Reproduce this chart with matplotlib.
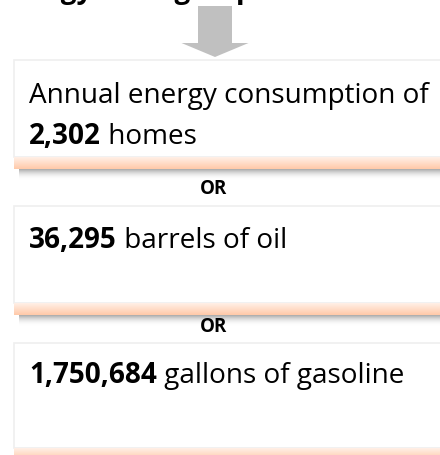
"""Energy savings equivalents infographic (boxes joined by OR)."""
import matplotlib
matplotlib.use("Agg")
import matplotlib.pyplot as plt
from matplotlib.colors import to_rgba
from matplotlib.patches import FancyArrow, Rectangle
import numpy as np

TITLE = "Energy Savings Equivalent"
INTRO = "Annual energy consumption of"
AMOUNTS = ["2,302", "36,295", "1,750,684"]
UNITS = ["homes", "barrels of oil", "gallons of gasoline"]
SEPARATOR = "OR"

FONT = "Open Sans"
TEXT_PT = 20.1
OR_PT = 13.5

# layout in pixels (y grows downward)
W, H = 440, 455
BOX_LEFT = 14
BOX_TOPS = [60, 206, 343]
BAND_TOPS = [157, 303, 448]
BAND_H = 12
BASELINES = [144, 248, 383]
OR_Y = [189, 327]


def gradient(ax, x0, x1, y0, y1, c_top, c_bot):
    top = np.array(to_rgba(c_top))
    bot = np.array(to_rgba(c_bot))
    t = np.linspace(0, 1, 32)[:, None, None]
    img = top * (1 - t) + bot * t
    img = np.repeat(img, 2, axis=1)
    ax.imshow(img, extent=(x0, x1, y1, y0), aspect="auto", interpolation="bilinear", zorder=2)


def draw_box(ax, top, band_top):
    # soft shadow under the orange band
    gradient(ax, BOX_LEFT + 5, W + 10, band_top + BAND_H, band_top + BAND_H + 11,
             (0.55, 0.55, 0.55, 0.75), (1, 1, 1, 0))
    ax.add_patch(Rectangle((BOX_LEFT, top), W + 20 - BOX_LEFT, band_top - top,
                           facecolor="white", edgecolor="#efefef", linewidth=1.2, zorder=2))
    gradient(ax, BOX_LEFT, W + 10, band_top, band_top + BAND_H, "#fff0e7", "#ffc9a9")


def mixed_line(ax, x, y, bold, regular):
    t = ax.text(x, y, bold, fontsize=TEXT_PT, fontweight="bold", family=FONT,
                va="baseline", ha="left", zorder=5)
    ax.annotate(" " + regular, xy=(1, 0), xycoords=t, va="bottom", ha="left",
                fontsize=TEXT_PT, family=FONT, zorder=5)


fig = plt.figure(figsize=(W / 100, H / 100), dpi=100)
ax = fig.add_axes([0, 0, 1, 1])
ax.axis("off")

# heading sits mostly above the crop, only its descenders show
ax.text(-2, -2, TITLE, fontsize=TEXT_PT, fontweight="bold", family=FONT,
        va="baseline", ha="left")
ax.add_patch(FancyArrow(215, 6, 0, 51, width=34, head_width=67, head_length=14,
                        length_includes_head=True, color="#c0c0c0", lw=0))

for top, band in zip(BOX_TOPS, BAND_TOPS):
    draw_box(ax, top, band)

ax.text(29, 103, INTRO, fontsize=TEXT_PT, family=FONT, va="baseline", ha="left", zorder=5)
for amount, unit, base in zip(AMOUNTS, UNITS, BASELINES):
    mixed_line(ax, 29, base, amount, unit)

for y in OR_Y:
    ax.text(214, y, SEPARATOR, fontsize=OR_PT, fontweight="bold", family=FONT,
            va="center", ha="center", zorder=5)

ax.set_xlim(0, W)
ax.set_ylim(H, 0)
fig.savefig("out.png", dpi=100)
